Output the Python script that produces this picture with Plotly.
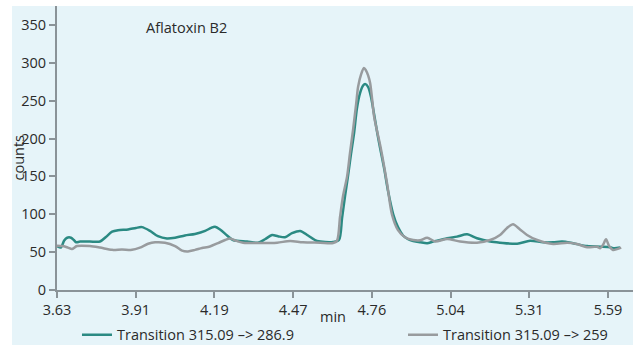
import plotly.graph_objects as go

# Retention time ticks (evenly spaced) and their labels
tick_vals = [3.63, 3.91, 4.19, 4.47, 4.75, 5.03, 5.31, 5.59]
tick_text = ["3.63", "3.91", "4.19", "4.47", "4.76", "5.04", "5.31", "5.59"]
y_ticks = [0, 50, 100, 150, 200, 250, 300, 350]

# Transition 315.09 -> 286.9 (teal)
t1_x = [3.630, 3.644, 3.655, 3.666, 3.680, 3.690, 3.698, 3.712, 3.747, 3.783,
        3.804, 3.826, 3.847, 3.883, 3.911, 3.932, 3.961, 3.989, 4.021, 4.050,
        4.085, 4.121, 4.157, 4.178, 4.192, 4.210, 4.235, 4.256, 4.306, 4.345,
        4.370, 4.395, 4.416, 4.441, 4.466, 4.495, 4.523, 4.555, 4.612, 4.633,
        4.644, 4.655, 4.665, 4.676, 4.687, 4.697, 4.708, 4.719, 4.726, 4.737,
        4.747, 4.758, 4.769, 4.779, 4.794, 4.808, 4.826, 4.843, 4.861, 4.879,
        4.897, 4.922, 4.947, 4.968, 4.993, 5.018, 5.053, 5.089, 5.124, 5.171,
        5.206, 5.267, 5.313, 5.359, 5.395, 5.427, 5.466, 5.516, 5.562, 5.598,
        5.612, 5.633]
t1_y = [58, 56, 65, 69, 69, 66, 63, 64, 64, 64,
        70, 77, 79, 80, 82, 83, 78, 71, 68, 69,
        72, 74, 78, 82, 83.5, 80, 72, 66, 64, 62.5,
        67, 72.6, 71, 69.6, 75, 78, 72, 64.7, 63.4, 66,
        95, 125, 150, 180, 208, 240, 260, 270, 272, 268,
        255, 232, 208, 188, 160, 130, 100, 83, 72, 67,
        64.7, 63, 61.7, 64, 66, 68.3, 70.5, 73.5, 68.3, 64,
        62.5, 61, 65, 63, 63, 64, 61.7, 58, 57.2, 56.4,
        55, 56]

# Transition 315.09 -> 259 (grey)
t2_x = [3.630, 3.651, 3.669, 3.683, 3.701, 3.747, 3.783, 3.826, 3.861, 3.897,
        3.925, 3.954, 3.979, 4.014, 4.050, 4.075, 4.096, 4.121, 4.146, 4.174,
        4.203, 4.228, 4.246, 4.267, 4.292, 4.352, 4.413, 4.459, 4.505, 4.566,
        4.612, 4.626, 4.637, 4.648, 4.662, 4.672, 4.683, 4.694, 4.701, 4.712,
        4.722, 4.729, 4.737, 4.744, 4.751, 4.758, 4.783, 4.804, 4.822, 4.843,
        4.868, 4.897, 4.922, 4.947, 4.975, 5.018, 5.064, 5.124, 5.171, 5.206,
        5.231, 5.252, 5.277, 5.302, 5.338, 5.395, 5.445, 5.480, 5.516, 5.551,
        5.562, 5.573, 5.583, 5.594, 5.608, 5.622, 5.637]
t2_y = [58.5, 58, 56, 54, 58, 58, 56, 53, 53.5, 53,
        56, 61, 63, 62.5, 58, 52, 51, 53, 55.5, 57.5,
        62, 66, 68, 65, 62.5, 62, 62.5, 64.7, 63, 62.5,
        62, 65, 97, 125, 150, 180, 211, 245, 268, 285,
        293, 290, 283, 273, 252, 229, 185, 141, 99, 79,
        69.6, 66, 65.6, 69, 64, 67.4, 64, 62.5, 66, 72.7,
        82, 86.8, 80, 72.7, 66, 60.8, 62.5, 60.8, 56.4, 57.2,
        55, 60, 67, 58, 52.8, 54, 56]

names = ["Transition 315.09 \u2013> 286.9", "Transition 315.09 \u2013> 259"]
colors = ["#2b8a83", "#989b9e"]

BG = "#e6f4f9"
AXIS = "#8a9398"
TXT = "#2a2a2a"
FONT = "Open Sans"

fig = go.Figure()
for xs, ys, nm, c, lg in [(t1_x, t1_y, names[0], colors[0], "legend"),
                          (t2_x, t2_y, names[1], colors[1], "legend2")]:
    fig.add_trace(go.Scatter(x=xs, y=ys, mode="lines", name=nm, legend=lg,
                             line=dict(color=c, width=2.5, shape="spline", smoothing=0.8),
                             hoverinfo="skip"))

leg_common = dict(orientation="h", xanchor="left", y=-0.158, yanchor="middle",
                  bgcolor="rgba(0,0,0,0)", itemclick=False, itemdoubleclick=False,
                  font=dict(family=FONT, size=14.5, color=TXT))

fig.update_layout(
    width=637, height=346,
    margin=dict(l=57, r=4, t=6, b=56, autoexpand=False),
    paper_bgcolor="white",
    plot_bgcolor=BG,
    font=dict(family=FONT, size=14.5, color=TXT),
    showlegend=True,
    legend=dict(x=0.0347, **leg_common),
    legend2=dict(x=0.6007, **leg_common),
    xaxis=dict(range=[3.63, 5.679], tickvals=tick_vals, ticktext=tick_text,
               showgrid=False, zeroline=False, showline=True, linecolor=AXIS, linewidth=2,
               ticks="outside", ticklen=6, tickwidth=1.5, tickcolor=AXIS,
               tickfont=dict(family=FONT, size=14.5, color=TXT)),
    yaxis=dict(range=[0, 375], tickvals=y_ticks,
               showgrid=False, zeroline=False, showline=True, linecolor=AXIS, linewidth=2,
               ticks="outside", ticklen=6, tickwidth=1.5, tickcolor=AXIS,
               tickfont=dict(family=FONT, size=14.5, color=TXT)),
    shapes=[dict(type="rect", xref="paper", yref="paper", x0=-0.078125, x1=1.0,
                 y0=-0.1937, y1=1.0, fillcolor=BG, line=dict(width=0), layer="below")],
    annotations=[
        dict(text="Aflatoxin B2", x=4.089, y=347, xref="x", yref="y", showarrow=False,
             xanchor="center", yanchor="middle", font=dict(family=FONT, size=14.5, color=TXT)),
        dict(text="counts", x=-0.0668, y=0.4648, xref="paper", yref="paper", showarrow=False,
             textangle=-90, xanchor="center", yanchor="middle",
             font=dict(family=FONT, size=14.5, color=TXT)),
        dict(text="min", x=0.479, y=-0.095, xref="paper", yref="paper", showarrow=False,
             xanchor="center", yanchor="middle", font=dict(family=FONT, size=14.5, color=TXT)),
    ],
)

fig.write_html("out.html", config={"displayModeBar": False},
               post_script="document.body.style.margin='0';document.body.style.padding='0';")
